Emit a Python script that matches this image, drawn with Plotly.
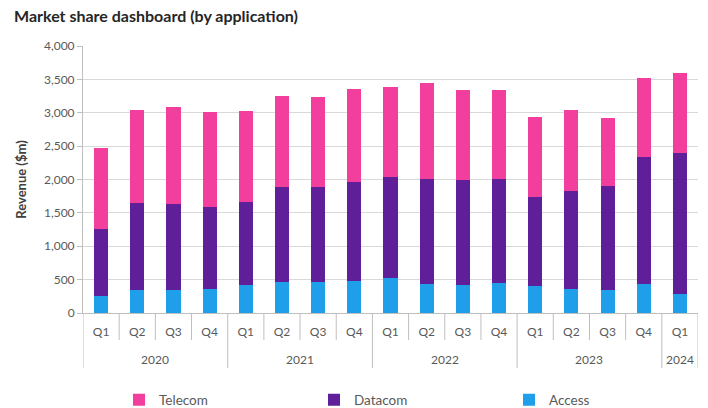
import plotly.graph_objects as go

# Quarterly revenue by application, $m
years = ["2020"] * 4 + ["2021"] * 4 + ["2022"] * 4 + ["2023"] * 4 + ["2024"]
quarters = ["Q1", "Q2", "Q3", "Q4"] * 4 + ["Q1"]

access = [260, 350, 350, 365, 420, 470, 470, 485, 530, 435, 420, 445, 405, 365, 345, 435, 285]
datacom = [1000, 1305, 1290, 1220, 1250, 1420, 1420, 1475, 1515, 1575, 1575, 1565, 1330, 1465, 1565, 1895, 2105]
telecom = [1215, 1390, 1445, 1420, 1350, 1355, 1340, 1400, 1340, 1435, 1340, 1325, 1200, 1205, 1010, 1195, 1205]

y_ticks = [0, 500, 1000, 1500, 2000, 2500, 3000, 3500, 4000]

colors = {"Access": "#1F9EEA", "Datacom": "#5F1F99", "Telecom": "#F23F9E"}
text_color = "#595959"
grid_color = "#D9D9D9"
axis_color = "#BFBFBF"
font_family = "Lato, 'Open Sans', sans-serif"

W, H = 708, 408
M_L, M_R, M_T, M_B = 83, 10, 46, 95
plot_w = W - M_L - M_R
plot_h = H - M_T - M_B


def below_axis(px):
    """Paper y coordinate for a point px pixels below the x axis line."""
    return -px / plot_h


pos = list(range(len(quarters)))

fig = go.Figure()
for name, vals in [("Access", access), ("Datacom", datacom), ("Telecom", telecom)]:
    fig.add_trace(go.Bar(
        x=pos, y=vals, name=name,
        marker=dict(color=colors[name], line=dict(width=0)),
        customdata=[f"{y} {q}" for y, q in zip(years, quarters)],
        hovertemplate="%{customdata}<br>" + name + ": %{y:,} $m<extra></extra>",
    ))

# Two-level category axis: quarter separators and year dividers
shapes = []
for i in range(len(quarters) + 1):
    xb = i - 0.5
    is_year_edge = i == 0 or i == len(quarters) or years[i] != years[i - 1]
    depth = 55 if is_year_edge else 27
    shapes.append(dict(
        type="line", xref="x", yref="paper",
        x0=xb, x1=xb, y0=0, y1=below_axis(depth),
        line=dict(color=axis_color, width=1),
    ))

annotations = []
groups = []
for i, y in enumerate(years):
    if not groups or groups[-1][0] != y:
        groups.append([y, i, i])
    else:
        groups[-1][2] = i
for y, a, b in groups:
    annotations.append(dict(
        text=y, xref="x", yref="paper",
        x=(a + b) / 2, y=below_axis(46), yanchor="middle",
        showarrow=False, font=dict(size=12, color=text_color),
    ))

fig.update_layout(
    width=W, height=H,
    barmode="stack",
    bargap=0.61,
    plot_bgcolor="white",
    paper_bgcolor="white",
    margin=dict(l=M_L, r=M_R, t=M_T, b=M_B),
    font=dict(family=font_family, size=12, color=text_color),
    title=dict(
        text="<b>Market share dashboard (by application)</b>",
        x=14 / W, xanchor="left", y=1 - 16 / H, yanchor="middle",
        font=dict(family=font_family, size=16, color="#262626"),
    ),
    legend=dict(
        orientation="h", traceorder="reversed",
        x=(119 - M_L) / plot_w, xanchor="left",
        yref="container", y=1 - 400 / H, yanchor="middle",
        font=dict(size=13.5, color=text_color),
        entrywidth=150, entrywidthmode="pixels",
        itemwidth=30,
    ),
    shapes=shapes,
    annotations=annotations,
)

fig.update_xaxes(
    range=[-0.5, len(quarters) - 0.5],
    tickvals=pos, ticktext=quarters,
    ticks="", ticklabelstandoff=8,
    showline=True, linecolor=axis_color, linewidth=1,
    tickfont=dict(size=12, color=text_color),
    showgrid=False, zeroline=False, automargin=False,
)

fig.update_yaxes(
    range=[0, 4000],
    tickvals=y_ticks,
    tickformat=",d",
    showgrid=True, gridcolor=grid_color, gridwidth=1,
    showline=True, linecolor=axis_color, linewidth=1,
    ticks="outside", ticklen=5, tickcolor=axis_color,
    tickfont=dict(size=12, color=text_color),
    zeroline=False, automargin=False,
    title=dict(text="<b>Revenue ($m)</b>", font=dict(size=13, color="#404040"), standoff=14),
)

fig.write_html("out.html")
